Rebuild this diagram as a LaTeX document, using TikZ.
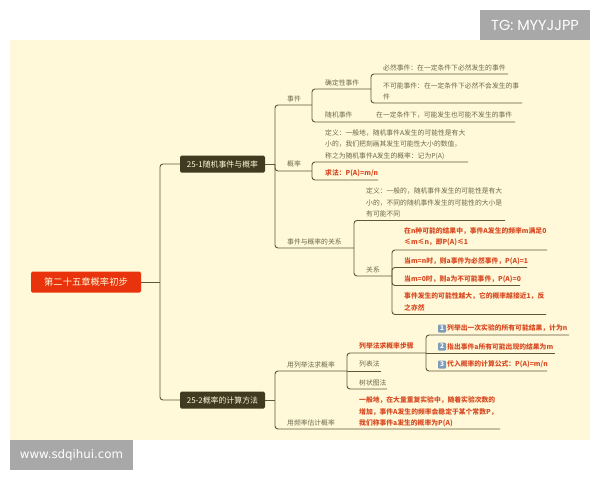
\documentclass[tikz,border=0pt]{standalone}
\usepackage{fontspec}
\setmainfont{Noto Sans CJK SC}
\newfontfamily\latinfont{DejaVu Sans}
\newfontfamily\tgfont{Poppins}
\definecolor{cream}{HTML}{FFF9D9}
\definecolor{badge}{HTML}{A8A8A8}
\definecolor{rootred}{HTML}{E8330C}
\definecolor{branchdark}{HTML}{3F3A20}
\definecolor{linecol}{HTML}{5F5838}
\definecolor{txtcol}{HTML}{6E684E}
\definecolor{redtxt}{HTML}{D84A22}
\definecolor{iconblue}{HTML}{7F9DB8}
\tikzset{
  conn/.style={draw=linecol, line width=0.9pt, rounded corners=3pt},
  roottopic/.style={rectangle, rounded corners=1.5pt, fill=rootred, text=cream, minimum width=110pt, minimum height=21pt, inner sep=0pt, font=\fontsize{9.3}{11}\selectfont},
  branchtopic/.style={rectangle, rounded corners=1.5pt, fill=branchdark, text=cream, minimum width=85pt, minimum height=17pt, inner sep=0pt, font=\fontsize{7.9}{9}\selectfont},
  topic/.style={anchor=west, inner sep=0pt, align=left, text=txtcol, font=\fontsize{6.8}{11.3}\selectfont},
  redtopic/.style={topic, text=redtxt, font=\fontsize{6.8}{11.3}\selectfont\bfseries},
  stepicon/.style={rectangle, rounded corners=1pt, fill=iconblue, text=white, minimum size=8pt, inner sep=0pt, font=\fontsize{6.5}{6.5}\selectfont\bfseries},
  badgebox/.style={rectangle, fill=badge, text=white, inner sep=0pt}
}
\begin{document}
\begin{tikzpicture}[x=1pt, y=-1pt]
  \useasboundingbox (0,0) rectangle (600,480);
  \fill[cream] (10,40) rectangle (590,440);

  \node[badgebox, minimum width=110pt, minimum height=30pt, font=\tgfont\fontsize{14.5}{16}\selectfont] (tg) at (535,25) {TG: MYYJJPP};
  \node[badgebox, minimum width=123pt, minimum height=30pt, font=\latinfont\fontsize{11.8}{14}\selectfont] (www) at (71.5,455) {www.sdqihui.com};

  % main topics
  \node[roottopic] (root) at (86,282) {第二十五章概率初步};
  \node[branchtopic] (a) at (222.5,164) {25-1随机事件与概率};
  \node[branchtopic] (b) at (222.5,400) {25-2概率的计算方法};

  % 25-1
  \node[topic] (sj) at (287,99) {事件};
  \node[topic] (qd) at (325,82.5) {确定性事件};
  \node[topic] (bi) at (383,68) {必然事件：在一定条件下必然发生的事件};
  \node[topic] (bk) at (383,91.5) {不可能事件：在一定条件下必然不会发生的事\\件};
  \node[topic] (sjb) at (325,115) {随机事件};
  \node[topic] (sjd) at (376,115) {在一定条件下，可能发生也可能不发生的事件};
  \node[topic] (gl) at (287,164) {概率};
  \node[topic] (dy) at (325,144.5) {定义：一般地，随机事件A发生的可能性是有大\\小的，我们把刻画其发生可能性大小的数值，\\称之为随机事件A发生的概率：记为P(A)};
  \node[redtopic] (qf) at (325,173) {求法：P(A)=m/n};
  \node[topic] (gx) at (287,242) {事件与概率的关系};
  \node[topic] (gd) at (366,202.5) {定义：一般的，随机事件发生的可能性是有大\\小的，不同的随机事件发生的可能性的大小是\\有可能不同};
  \node[topic] (gxr) at (366,270) {关系};
  \node[redtopic] (r1) at (404,237) {在n种可能的结果中，事件A发生的频率m满足0\\≤m≤n，即P(A)≤1};
  \node[redtopic] (r2) at (404,261) {当m=n时，则a事件为必然事件，P(A)=1};
  \node[redtopic] (r3) at (404,279) {当m=0时，则a为不可能事件，P(A)=0};
  \node[redtopic] (r4) at (404,302) {事件发生的可能性越大，它的概率越接近1，反\\之亦然};

  % 25-2
  \node[topic] (ju) at (287,364.5) {用列举法求概率};
  \node[redtopic] (st) at (359,346) {列举法求概率步骤};
  \node[stepicon] (i1) at (442,328.5) {1};
  \node[stepicon] (i2) at (442,346.5) {2};
  \node[stepicon] (i3) at (442,364.5) {3};
  \node[redtopic] (s1) at (447,328.5) {列举出一次实验的所有可能结果，计为n};
  \node[redtopic] (s2) at (447,346.5) {指出事件a所有可能出现的结果为m};
  \node[redtopic] (s3) at (447,364.5) {代入概率的计算公式：P(A)=m/n};
  \node[topic] (lb) at (359,364) {列表法};
  \node[topic] (sz) at (359,383) {树状图法};
  \node[topic] (pl) at (287,423) {用频率估计概率};
  \node[redtopic] (pd) at (359,412) {一般地，在大量重复实验中，随着实验次数的\\增加，事件A发生的频率会稳定于某个常数P，\\我们称事件a发生的概率为P(A)};

  % junctions and line ends
  \coordinate (ja) at (160,282);
  \coordinate (ja1) at (275,164);
  \coordinate (sjr) at (312,105);
  \coordinate (qdr) at (371,89);
  \coordinate (bir) at (508,74);
  \coordinate (bkr) at (522,103);
  \coordinate (sbr) at (515,122);
  \coordinate (glr) at (312,171);
  \coordinate (dyr) at (468,162);
  \coordinate (qfr) at (378,180);
  \coordinate (gxe) at (354,248);
  \coordinate (gdr) at (505,220.5);
  \coordinate (gxj) at (392,276);
  \coordinate (r1e) at (547,250);
  \coordinate (r2e) at (527,267.5);
  \coordinate (r3e) at (520,285.5);
  \coordinate (r4e) at (546,314.5);
  \coordinate (jb) at (275,400);
  \coordinate (juj) at (347,371);
  \coordinate (stj) at (426,353);
  \coordinate (s1e) at (569,335);
  \coordinate (s2e) at (555,353);
  \coordinate (s3e) at (547,371);
  \coordinate (lbe) at (381,371);
  \coordinate (sze) at (387,389);
  \coordinate (ple) at (500,429);

  \draw[conn] (root) -- (ja);
  \draw[conn] (a) -| (ja) |- (b);

  \draw[conn] (a) -- (ja1);
  \draw[conn] (sjr) -| (ja1) |- (gxe);
  \draw[conn] (ja1) |- (glr);
  \draw[conn] (qdr) -| (sjr) |- (sbr);
  \draw[conn] (bir) -| (qdr) |- (bkr);
  \draw[conn] (dyr) -| (glr) |- (qfr);
  \draw[conn] (gdr) -| (gxe) |- (gxj);
  \draw[conn] (r1e) -| (gxj) |- (r4e);
  \draw[conn] (gxj) |- (r2e);
  \draw[conn] (gxj) |- (r3e);

  \draw[conn] (b) -- (jb);
  \draw[conn] (juj) -| (jb) |- (ple);
  \draw[conn] (stj) -| (juj) |- (sze);
  \draw[conn] (juj) -- (lbe);
  \draw[conn] (s1e) -| (stj) |- (s3e);
  \draw[conn] (stj) -- (s2e);
\end{tikzpicture}
\end{document}
